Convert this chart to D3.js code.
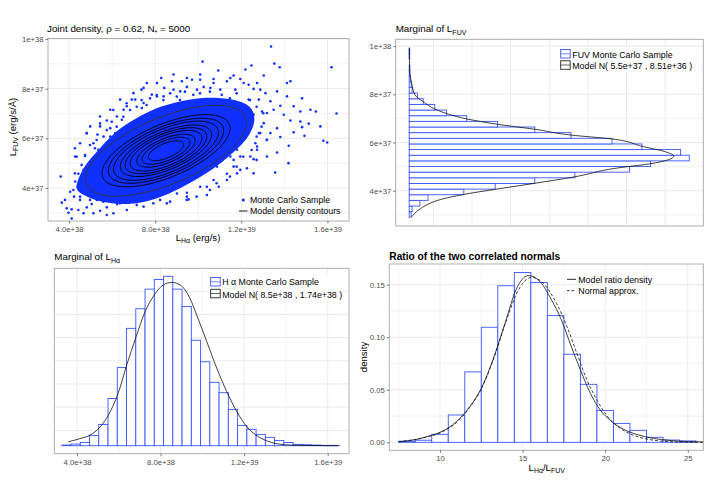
<!DOCTYPE html>
<html>
<head>
<meta charset="utf-8">
<script src="https://cdn.jsdelivr.net/npm/d3@7"></script>
<style>
  body { margin: 0; background: #fff; }
</style>
</head>
<body>
<svg id="chart" width="706" height="499"></svg>
<script>
// ---- joint panel: x = L_Ha in 1e38 erg/s, y = L_FUV in 1e37 erg/s/A ----
const jointMean = [8.5, 5.5]
const jointSd = [1.74, 0.851]
const jointRho = 0.62
const contourRadii = [2.15, 1.71, 1.54, 1.40, 1.22, 1.09, 0.96, 0.78, 0.64, 0.47]   // mahalanobis radius of each drawn contour
// outline of the region where the sample points merge into a solid mass
const sampleCore = [[4.35,4.01],[4.69,4.81],[5.36,5.53],[6.19,6.26],[7.03,6.76],[8.04,7.20],[9.20,7.49],[10.37,7.63],
  [11.55,7.56],[12.38,7.27],[12.60,6.69],[12.22,5.96],[11.37,5.24],[10.37,4.59],[9.20,4.01],[8.04,3.58],
  [6.86,3.36],[5.69,3.43],[4.85,3.65]]
// the individually visible sample points around that mass
const sampleScatter = [
  [13.38,9.70],[10.20,9.09],[13.53,9.01],[13.78,8.86],[16.19,8.86],[12.47,8.93],[12.19,8.77],[10.93,8.73],
  [8.28,8.43],[9.24,8.30],[9.71,8.36],[7.36,7.96],[8.42,8.03],[11.64,8.53],[10.71,8.23],[11.33,8.30],
  [11.95,8.39],[12.73,8.23],[13.04,8.53],[14.12,8.23],[14.28,8.30],[12.57,7.99],[10.25,8.07],[8.85,7.96],
  [7.84,7.76],[6.91,7.56],[9.47,8.07],[11.02,7.96],[9.94,7.96],[12.34,8.16],
  [14.43,7.29],[14.82,7.61],[14.12,7.69],[13.66,7.89],[13.12,7.82],[13.35,7.49],[13.81,7.31],[12.81,7.56],
  [12.96,7.08],[13.50,7.15],[13.97,6.95],[14.74,7.08],[15.21,7.15],[15.46,7.08],[16.42,7.00],[14.28,6.72],
  [14.74,6.68],[15.13,6.59],[15.67,6.48],[14.82,6.45],[14.43,6.24],[14.93,6.10],[15.81,5.90],[15.99,5.83],
  [14.20,5.70],[13.66,6.41],[13.35,6.21],[13.19,5.94],[13.81,6.05],[12.73,5.54],[12.57,5.16],[13.19,5.27],
  [13.66,5.43],[14.19,5.00],[13.57,4.62],[12.26,4.79],[12.65,5.80],[13.04,6.61],[12.57,6.95],[12.81,6.21],
  [11.95,5.27],[11.64,4.86],[11.33,4.57],[10.71,4.32],[10.09,4.05],[9.47,3.81],[10.95,4.05],[10.40,3.72],
  [11.80,4.59],[12.57,4.59],
  [3.61,4.46],[3.66,3.41],[3.97,3.00],[4.12,3.14],[4.05,3.85],[4.23,3.65],[4.51,3.52],[4.39,4.05],
  [4.82,3.22],[5.05,3.35],[5.44,3.08],[4.67,2.98],[5.75,3.22],[6.22,3.35],[5.13,4.86],[4.67,4.73],
  [4.43,4.57],[4.28,4.26],[5.44,4.46],[4.82,6.21],[5.32,6.15],[5.91,6.41],[6.53,7.15],[7.07,7.56],
  [6.22,6.88],[5.75,6.72],[5.44,6.48],[5.13,5.80],[4.74,5.29],[5.60,6.07],[6.14,6.21],[6.68,7.29],
  [7.46,7.42],[8.08,7.69],[7.61,6.95],[6.53,3.52],[6.99,3.62],[7.46,3.52],[7.92,3.72],[8.54,3.85],
  [9.01,3.78],[9.55,3.54],[8.23,3.52],[6.06,2.98],[5.29,3.52],[4.95,4.05],[4.59,3.85],[3.89,3.18],
  [4.12,2.77],[3.81,3.52],
  [12.19,7.29],[12.42,6.48],[12.11,5.94],[11.80,5.54],[11.49,5.27],[11.95,6.75],[12.34,7.56],[11.72,7.96],
  [10.56,8.03],[9.16,7.89],[8.39,7.69],[7.38,7.22],[6.45,6.75],[5.91,6.07],[5.36,5.54],[4.98,5.00],
  [4.74,4.32],[5.44,3.78],[6.37,3.65],[7.30,3.85],[8.23,4.05],[9.16,4.32],[10.09,4.59],[10.87,4.86],[11.64,5.13],
  [4.35,5.26],[4.74,5.33],[4.82,6.20],[5.28,5.93],[5.20,5.60],[5.75,6.33],[5.98,6.67],[6.21,6.47],
  [6.52,6.87],[6.83,7.14],[6.67,7.41],[7.14,7.27],[7.37,7.54],[7.76,7.61],[8.07,7.74],[8.38,7.54],
  [8.69,7.81],[9.00,7.68],[9.38,7.88],[9.77,7.75],[10.08,7.81],[10.54,7.88],[11.09,7.75],[11.47,7.61],
  [11.78,7.81],[12.40,7.54],[12.71,7.27],[13.02,7.01],[12.94,6.47],[12.71,6.07],[13.18,5.93],[12.48,5.53],
  [12.71,5.13],[12.09,5.26],[11.78,4.86],[11.47,4.46],[10.85,4.19],[10.54,3.92],[9.92,3.65],[9.46,3.52],
  [8.69,3.45],[7.91,3.38],[7.14,3.31],[6.36,3.38],[5.59,3.45],[4.97,3.52],[4.51,3.65],[4.20,3.92],
  [4.27,4.59],[4.58,4.93],[5.44,6.60],[4.97,5.73],[6.05,7.14],[7.60,7.34],[9.15,7.54],[6.05,6.00],
  [5.51,5.19],[4.27,5.60],
  [6.99,7.82],[7.46,8.03],[8.08,8.23],[8.78,8.30],[9.47,8.43],[10.09,8.36],[10.71,8.39],[11.49,8.43],
  [12.11,8.23],[12.88,7.96],[10.09,8.57],[8.85,8.57],[7.61,8.23],[6.37,7.56],[5.91,7.15],[5.44,6.88],
  [4.98,6.48],[4.51,5.80],[4.28,5.27],[13.19,7.02],[12.88,6.21],[12.73,5.67],[12.42,5.27],[11.95,4.73],
  [11.33,4.32],[10.40,4.05],[9.47,3.65],[8.54,3.38],[7.46,3.25],[6.68,3.11],[5.75,2.91],[5.13,2.98],[4.43,3.11]]
const jointXTicks = [4, 8, 12, 16]
const jointYTicks = [4, 6, 8, 10]

// ---- FUV marginal: 30 bins in L_FUV (1e37), counts per bin ----
const fuvBinStart = 2.90
const fuvBinWidth = 0.234
const fuvCounts = [4, 6, 22, 39, 113, 178, 260, 343, 456, 500, 580, 562, 482, 420, 335,
  260, 183, 119, 77, 53, 29, 17, 6, 4, 2, 1, 1, 0, 1, 1]
const fuvCurveY = [9.91, 8.87, 8.46, 7.97, 7.69, 7.39, 7.18, 6.98, 6.76, 6.55, 6.31, 6.15, 5.83, 5.62, 5.44,
  5.14, 4.93, 4.58, 4.31, 4.06, 3.85, 3.61, 3.38, 3.13, 2.92]
const fuvCurveCount = [0, 1.5, 5, 12, 29, 53, 81, 119, 182, 260, 335, 419, 485, 530, 548,
  505, 426, 343, 260, 178, 113, 60, 33, 15, 5]
const fuvYTicks = [4, 6, 8, 10]
const fuvCountGrid = [50, 130, 210, 290, 370, 450, 530]

// ---- Ha marginal: 30 bins in L_Ha (1e38), counts per bin ----
const haBinStart = 3.27
const haBinWidth = 0.443
const haCounts = [2, 5, 10, 32, 66, 147, 243, 365, 426, 487, 517, 527, 487, 433, 328,
  261, 197, 165, 113, 63, 51, 35, 26, 16, 10, 4, 3, 2, 1, 1]
const haCurveX = [3.58, 4.14, 4.62, 5.10, 5.50, 5.98, 6.38, 6.83, 7.26, 7.70, 8.13, 8.54, 8.93, 9.41, 9.73,
  10.21, 10.69, 11.17, 11.65, 12.13, 12.61, 13.09, 13.57, 14.2, 15.16, 16.5]
const haCurveCount = [12, 22, 33, 58, 95, 165, 251, 339, 417, 469, 500, 508, 500, 458, 406,
  324, 241, 168, 106, 59, 31, 15, 6, 2, 0.5, 0]
const haXTicks = [4, 8, 12, 16]
const haCountGrid = [47, 120, 192, 264, 336, 408, 480]

// ---- ratio L_Ha / L_FUV: unit-width bins from 7.5, density ----
const ratioBinStart = 7.5
const ratioDensity = [0.001, 0.002, 0.0076, 0.026, 0.067, 0.1095, 0.149, 0.1616, 0.152, 0.1206,
  0.0838, 0.0552, 0.0302, 0.018, 0.0114, 0.0048, 0.0022, 0.0013]
const ratioModelX = [7.5, 8.6, 9.2, 10.0, 11.0, 11.8, 12.5, 13.2, 14.0, 14.6, 15.35, 16.05, 16.75, 17.35,
  17.95, 18.5, 19.1, 19.7, 20.3, 21.1, 21.9, 22.9, 23.9, 24.9, 25.94]
const ratioModelY = [0.0006, 0.0029, 0.0054, 0.0095, 0.0197, 0.034, 0.0514, 0.0784, 0.1165, 0.1451, 0.1587,
  0.153, 0.1356, 0.1165, 0.0911, 0.0689, 0.0467, 0.0308, 0.021, 0.0125, 0.0075, 0.0038, 0.0018, 0.0008, 0.0003]
const normalApproxX = [7.5, 9.2, 10.0, 11.0, 11.8, 12.5, 13.2, 14.0, 14.65, 15.55, 16.25, 17.05, 17.65,
  18.25, 18.85, 19.5, 20.1, 20.9, 21.7, 22.5, 23.3, 24.3, 25.94]
const normalApproxY = [0.0006, 0.005, 0.0089, 0.019, 0.0333, 0.0508, 0.0775, 0.115, 0.142, 0.157, 0.1514,
  0.1324, 0.1117, 0.0863, 0.061, 0.0403, 0.0254, 0.0135, 0.0068, 0.0032, 0.0013, 0.0004, 0.0]
const ratioXTicks = [10, 15, 20, 25]
const ratioYTicks = [0, 0.05, 0.10, 0.15]


const FONT = '"Liberation Sans", Arial, Helvetica, sans-serif'
const BLUE = "#1030ff"
const BAR = "#3a55ff"
const GRID = "#ebebeb"
const svg = d3.select("#chart")
svg.append("rect").attr("width", 706).attr("height", 499).attr("fill", "#fff")

// text with optional subscripts: parts are strings, or [string] for a subscript
const label = (x, y, parts, size, opts = {}) => {
    const t = svg.append("text")
        .attr("x", x).attr("y", y)
        .attr("fill", opts.fill || "#000")
        .attr("text-anchor", opts.anchor || "start")
        .style("font-family", FONT)
        .style("font-size", size + "px")
        .style("font-weight", opts.bold ? "bold" : "normal")
    if (opts.rotate) t.attr("transform", `rotate(-90,${x},${y})`)
    let shift = 0
    parts.forEach(p => {
        const sub = Array.isArray(p)
        const target = sub ? size * 0.3 : 0
        t.append("tspan")
            .attr("dy", target - shift)
            .style("font-size", (sub ? size * 0.72 : size) + "px")
            .text(sub ? p[0] : p)
        shift = target
    })
    return t
}

// grid lines for one panel
const panel = (x, y, o) => {
    const [x0, x1] = x.range(), [y1, y0] = y.range()
    const g = svg.append("g")
    const vline = (v, w) => g.append("line").attr("x1", x(v)).attr("x2", x(v)).attr("y1", y0).attr("y2", y1)
        .attr("stroke", GRID).attr("stroke-width", w)
    const hline = (v, w) => g.append("line").attr("y1", y(v)).attr("y2", y(v)).attr("x1", x0).attr("x2", x1)
        .attr("stroke", GRID).attr("stroke-width", w);
    (o.xMinor || []).forEach(v => vline(v, 0.6));
    (o.yMinor || []).forEach(v => hline(v, 0.6));
    (o.xMajor || []).forEach(v => vline(v, 1));
    (o.yMajor || []).forEach(v => hline(v, 1))
    return g
}

const frame = (x, y) => {
    const [x0, x1] = x.range(), [y1, y0] = y.range()
    svg.append("rect").attr("x", x0).attr("y", y0).attr("width", x1 - x0).attr("height", y1 - y0)
        .attr("fill", "none").attr("stroke", "#a6a6a6").attr("stroke-width", 0.9)
}

const styleAxis = (a) => {
    a.select(".domain").remove()
    a.selectAll("line").attr("stroke", "#444").attr("stroke-width", 0.7)
    a.selectAll("text").attr("fill", "#4d4d4d").style("font-family", FONT).style("font-size", "7.7px")
}

const xAxis = (x, y, ticks, fmt) => {
    const a = svg.append("g").attr("transform", `translate(0,${y.range()[0]})`)
        .call(d3.axisBottom(x).tickValues(ticks).tickFormat(fmt).tickSize(2.5).tickPadding(3))
    styleAxis(a)
}
const yAxis = (x, y, ticks, fmt) => {
    const a = svg.append("g").attr("transform", `translate(${x.range()[0]},0)`)
        .call(d3.axisLeft(y).tickValues(ticks).tickFormat(fmt).tickSize(2.5).tickPadding(2))
    styleAxis(a)
}

const fmt38 = v => d3.format(".1e")(v * 1e38)
const fmt37 = v => d3.format(".0e")(v * 1e37)


// ================= joint density =================
{
    const x = d3.scaleLinear().domain([3.02, 17.0]).range([48, 349])
    const y = d3.scaleLinear().domain([2.67, 10.02]).range([221, 38.5])
    panel(x, y, { xMajor: jointXTicks, xMinor: [6, 10, 14], yMajor: jointYTicks, yMinor: [3, 5, 7, 9] })

    svg.append("clipPath").attr("id", "clipJoint").append("rect")
        .attr("x", 48).attr("y", 38.5).attr("width", 301).attr("height", 182.5)
    const g = svg.append("g").attr("clip-path", "url(#clipJoint)")

    g.append("path")
        .datum(sampleCore)
        .attr("d", d3.line().x(d => x(d[0])).y(d => y(d[1])).curve(d3.curveCardinalClosed))
        .attr("fill", BLUE)

    g.selectAll(".pt")
        .data(sampleScatter)
        .enter()
        .append("circle")
        .attr("cx", d => x(d[0]))
        .attr("cy", d => y(d[1]))
        .attr("r", 1.3)
        .attr("fill", BLUE)

    // model contours: ellipses of constant mahalanobis radius
    const ellipse = (r) => d3.range(0, 361, 4).map(deg => {
        const t = deg * Math.PI / 180
        const z1 = r * Math.cos(t), z2 = r * Math.sin(t)
        return [jointMean[0] + jointSd[0] * z1,
                jointMean[1] + jointSd[1] * (jointRho * z1 + Math.sqrt(1 - jointRho * jointRho) * z2)]
    })
    g.selectAll(".contour")
        .data(contourRadii)
        .enter()
        .append("path")
        .attr("d", r => d3.line().x(d => x(d[0])).y(d => y(d[1])).curve(d3.curveCardinalClosed)(ellipse(r)))
        .attr("fill", "none")
        .attr("stroke", (r, i) => i === 0 ? "#333" : "#000")
        .attr("stroke-width", 0.9)

    frame(x, y)
    xAxis(x, y, jointXTicks, fmt38)
    yAxis(x, y, jointYTicks, fmt37)

    label(47, 32, ["Joint density,  \u03c1 = 0.62, N", ["*"], " = 5000"], 9.8)
    label(198, 240.5, ["L", ["H\u03b1"], " (erg/s)"], 9.6, { anchor: "middle" })
    label(15.5, 127, ["L", ["FUV"], " (erg/s/\u00c5)"], 9.6, { anchor: "middle", rotate: true })

    svg.append("circle").attr("cx", 243.3).attr("cy", 200).attr("r", 1.6).attr("fill", BLUE)
    label(250, 203, ["Monte Carlo Sample"], 8.8)
    svg.append("line").attr("x1", 239).attr("x2", 247.5).attr("y1", 211).attr("y2", 211)
        .attr("stroke", "#000").attr("stroke-width", 0.9)
    label(250, 214, ["Model density contours"], 8.8)
}

// ================= marginal of L_FUV (flipped histogram) =================
{
    const x = d3.scaleLinear().domain([-28, 609]).range([395.7, 703.3])
    const y = d3.scaleLinear().domain([2.54, 10.28]).range([226, 39.3])
    panel(x, y, { xMajor: fuvCountGrid, yMajor: fuvYTicks, yMinor: [3, 5, 7, 9] })

    svg.append("g").selectAll("rect")
        .data(fuvCounts)
        .enter()
        .append("rect")
        .attr("x", x(0))
        .attr("y", (d, i) => y(fuvBinStart + (i + 1) * fuvBinWidth))
        .attr("width", d => x(d) - x(0))
        .attr("height", y(0) - y(fuvBinWidth))
        .attr("fill", "#fff")
        .attr("stroke", BAR)
        .attr("stroke-width", 0.9)

    svg.append("path")
        .datum(d3.zip(fuvCurveCount, fuvCurveY))
        .attr("d", d3.line().x(d => x(d[0])).y(d => y(d[1])).curve(d3.curveMonotoneY))
        .attr("fill", "none").attr("stroke", "#111").attr("stroke-width", 0.8)

    frame(x, y)
    yAxis(x, y, fuvYTicks, fmt37)
    label(395.7, 32, ["Marginal of L", ["FUV"]], 9.8)

    svg.append("rect").attr("x", 558).attr("y", 47).attr("width", 140).attr("height", 25).attr("fill", "#fff")
    svg.append("rect").attr("x", 560.7).attr("y", 49.5).attr("width", 9.5).attr("height", 8.5)
        .attr("fill", "#fff").attr("stroke", BAR).attr("stroke-width", 0.9)
    svg.append("line").attr("x1", 560.7).attr("x2", 570.2).attr("y1", 53.8).attr("y2", 53.8)
        .attr("stroke", BAR).attr("stroke-width", 0.7)
    label(572.3, 58, ["FUV Monte Carlo Sample"], 8.8)
    svg.append("rect").attr("x", 560.7).attr("y", 60.8).attr("width", 9.5).attr("height", 8.5)
        .attr("fill", "#fff").attr("stroke", "#222").attr("stroke-width", 0.9)
    svg.append("line").attr("x1", 560.7).attr("x2", 570.2).attr("y1", 65).attr("y2", 65)
        .attr("stroke", "#222").attr("stroke-width", 0.7)
    label(572.3, 69, ["Model N( 5.5e+37 , 8.51e+36 )"], 8.8)
}

// ================= marginal of L_Ha =================
{
    const x = d3.scaleLinear().domain([2.913, 17.02]).range([54.3, 349])
    const y = d3.scaleLinear().domain([-24.9, 551.8]).range([453.7, 268.3])
    panel(x, y, { xMajor: haXTicks, xMinor: [6, 10, 14], yMajor: haCountGrid })

    svg.append("g").selectAll("rect")
        .data(haCounts)
        .enter()
        .append("rect")
        .attr("x", (d, i) => x(haBinStart + i * haBinWidth))
        .attr("y", d => y(d))
        .attr("width", x(haBinWidth) - x(0))
        .attr("height", d => y(0) - y(d))
        .attr("fill", "#fff")
        .attr("stroke", BAR)
        .attr("stroke-width", 0.9)

    svg.append("path")
        .datum(d3.zip(haCurveX, haCurveCount))
        .attr("d", d3.line().x(d => x(d[0])).y(d => y(d[1])).curve(d3.curveMonotoneX))
        .attr("fill", "none").attr("stroke", "#111").attr("stroke-width", 0.8)

    frame(x, y)
    xAxis(x, y, haXTicks, fmt38)
    label(54.3, 260, ["Marginal of L", ["H\u03b1"]], 9.8)

    svg.append("rect").attr("x", 208).attr("y", 275).attr("width", 135).attr("height", 26).attr("fill", "#fff")
    svg.append("rect").attr("x", 210.7).attr("y", 277.5).attr("width", 9.5).attr("height", 8.5)
        .attr("fill", "#fff").attr("stroke", BAR).attr("stroke-width", 0.9)
    svg.append("line").attr("x1", 210.7).attr("x2", 220.2).attr("y1", 281.8).attr("y2", 281.8)
        .attr("stroke", BAR).attr("stroke-width", 0.7)
    label(222.3, 285, ["H \u03b1 Monte Carlo Sample"], 8.8)
    svg.append("rect").attr("x", 210.7).attr("y", 289.3).attr("width", 9.5).attr("height", 8.5)
        .attr("fill", "#fff").attr("stroke", "#222").attr("stroke-width", 0.9)
    svg.append("line").attr("x1", 210.7).attr("x2", 220.2).attr("y1", 293.5).attr("y2", 293.5)
        .attr("stroke", "#222").attr("stroke-width", 0.7)
    label(222.3, 297.5, ["Model N( 8.5e+38 , 1.74e+38 )"], 8.8)
}

// ================= ratio of the two correlated normals =================
{
    const x = d3.scaleLinear().domain([6.93, 25.94]).range([389.3, 703.3])
    const y = d3.scaleLinear().domain([-0.0076, 0.1697]).range([450.3, 264])
    panel(x, y, { xMajor: ratioXTicks, xMinor: [7.5, 12.5, 17.5, 22.5], yMajor: ratioYTicks, yMinor: [0.025, 0.075, 0.125] })

    svg.append("g").selectAll("rect")
        .data(ratioDensity)
        .enter()
        .append("rect")
        .attr("x", (d, i) => x(ratioBinStart + i))
        .attr("y", d => y(d))
        .attr("width", x(1) - x(0))
        .attr("height", d => y(0) - y(d))
        .attr("fill", "#fff")
        .attr("stroke", BAR)
        .attr("stroke-width", 0.9)

    const line = d3.line().x(d => x(d[0])).y(d => y(d[1])).curve(d3.curveMonotoneX)
    svg.append("path").datum(d3.zip(ratioModelX, ratioModelY)).attr("d", line)
        .attr("fill", "none").attr("stroke", "#111").attr("stroke-width", 0.8)
    svg.append("path").datum(d3.zip(normalApproxX, normalApproxY)).attr("d", line)
        .attr("fill", "none").attr("stroke", "#111").attr("stroke-width", 0.8).attr("stroke-dasharray", "3,2")

    frame(x, y)
    xAxis(x, y, ratioXTicks, d3.format("d"))
    yAxis(x, y, ratioYTicks, d3.format(".2f"))

    label(389.3, 259.5, ["Ratio of the two correlated normals"], 10.2, { bold: true })
    label(546.7, 470.5, ["L", ["H\u03b1"], "/L", ["FUV"]], 9.6, { anchor: "middle" })
    label(367, 357, ["density"], 9.6, { anchor: "middle", rotate: true })

    svg.append("line").attr("x1", 567).attr("x2", 576).attr("y1", 279.3).attr("y2", 279.3)
        .attr("stroke", "#111").attr("stroke-width", 0.9)
    label(578.3, 282.5, ["Model ratio density"], 8.8)
    svg.append("line").attr("x1", 567).attr("x2", 576).attr("y1", 290.7).attr("y2", 290.7)
        .attr("stroke", "#111").attr("stroke-width", 0.9).attr("stroke-dasharray", "2.5,2")
    label(578.3, 294, ["Normal approx."], 8.8)
}
</script>
</body>
</html>
